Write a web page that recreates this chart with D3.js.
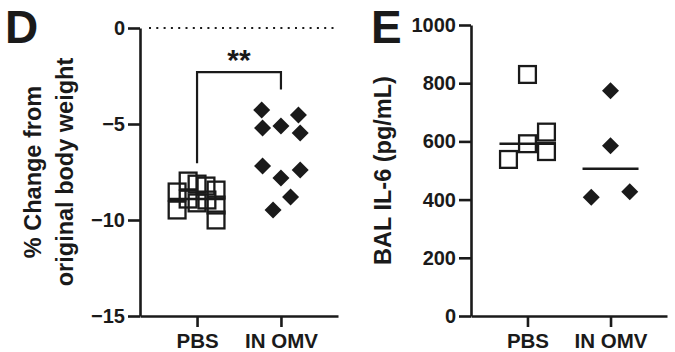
<!DOCTYPE html>
<html>
<head>
<meta charset="utf-8">
<script src="https://cdn.jsdelivr.net/npm/d3@7"></script>
<style>
  body { margin: 0; background: #fff; }
  text { font-family: "Liberation Sans", Arial, sans-serif; font-weight: bold; fill: #1a1a1a; }
</style>
</head>
<body>
<div id="chart"></div>
<script>
// groups
const groups = ["PBS", "IN OMV"];

// panel D: % change from original body weight
const weightPBS = [-8.54, -9.48, -7.97, -8.13, -8.23, -8.44, -8.91, -9.11, -8.96, -9.22, -10.0];
const weightOMV = [-4.27, -4.53, -5.21, -5.10, -5.47, -7.19, -7.40, -7.81, -8.80, -9.48];
const weightTicks = [0, -5, -10, -15];

// panel E: BAL IL-6 (pg/mL)
const il6PBS = [830, 538, 592, 632, 565];
const il6OMV = [774, 585, 408, 427];
const il6Ticks = [0, 200, 400, 600, 800, 1000];

// horizontal scatter of the dots, in marker widths
const jitterWeightPBS = [-1.05, -1.05, -0.47, 0, 0.47, 1.0, -0.47, 0, 0.52, 1.0, 1.0];
const jitterWeightOMV = [-1.1, 1.0, -1.05, 0, 1.1, -1.05, 1.1, 0, 0.55, -0.45];
const jitterIl6PBS = [0, -1.0, 0, 1.0, 1.0];
const jitterIl6OMV = [0, 0, -1.1, 1.1];

const W = 675, H = 352;
const ink = "#1a1a1a";
const svg = d3.select("#chart").append("svg").attr("width", W).attr("height", H);

function panel(opt) {
  const g = svg.append("g");
  const x = d3.scalePoint().domain(groups).range([opt.left, opt.right]).padding(0.68);
  const y = d3.scaleLinear().domain(opt.domain).range([opt.bottom, opt.top]);

  // axes
  const yAxis = g.append("g")
    .attr("transform", `translate(${opt.left},0)`)
    .call(d3.axisLeft(y).tickValues(opt.ticks).tickFormat(d3.format("d"))
      .tickSize(12).tickSizeOuter(0).tickPadding(3));
  const xAxis = g.append("g")
    .attr("transform", `translate(0,${opt.bottom})`)
    .call(d3.axisBottom(x).tickSize(11).tickSizeOuter(0).tickPadding(6));
  [yAxis, xAxis].forEach(a => {
    a.attr("font-family", null).attr("font-size", null);
    a.select(".domain").attr("stroke", ink).attr("stroke-width", 2.6);
    a.selectAll(".tick line").attr("stroke", ink).attr("stroke-width", 2.6);
    a.selectAll("text").attr("fill", ink).style("font-size", "20px");
  });
  xAxis.selectAll("text").style("font-size", "20.5px");

  // y label
  const lab = g.append("text")
    .attr("transform", `translate(${opt.labelX},${(opt.top + opt.bottom) / 2}) rotate(-90)`)
    .attr("text-anchor", "middle")
    .style("font-size", "23.5px");
  opt.label.forEach((t, i) => {
    lab.append("tspan").attr("x", 0).attr("dy", i === 0 ? 0 : 32).text(t);
  });

  // panel letter
  g.append("text").attr("x", opt.letterX).attr("y", 43)
    .style("font-size", "46px").text(opt.letter);

  return { g, x, y };
}

function squares(p, grp, vals, jit, size) {
  p.g.selectAll(null).data(vals).enter().append("rect")
    .attr("x", (d, i) => p.x(grp) + jit[i] * size - size / 2 + 1.1)
    .attr("y", d => p.y(d) - size / 2 + 1.1)
    .attr("width", size - 2.2).attr("height", size - 2.2)
    .attr("fill", "none").attr("stroke", ink).attr("stroke-width", 2.3);
}

function diamonds(p, grp, vals, jit, size) {
  const r = size / 2;
  p.g.selectAll(null).data(vals).enter().append("path")
    .attr("d", (d, i) => {
      const cx = p.x(grp) + jit[i] * 17.5, cy = p.y(d);
      return `M${cx},${cy - r}L${cx + r},${cy}L${cx},${cy + r}L${cx - r},${cy}Z`;
    })
    .attr("fill", ink);
}

function medianLine(p, grp, vals) {
  const m = d3.median(vals);
  p.g.append("line")
    .attr("x1", p.x(grp) - 28).attr("x2", p.x(grp) + 28)
    .attr("y1", p.y(m)).attr("y2", p.y(m))
    .attr("stroke", ink).attr("stroke-width", 2.6);
}

// ---- panel D
const pD = panel({
  left: 140, right: 338, top: 28, bottom: 316,
  domain: [-15, 0], ticks: weightTicks,
  label: ["% Change from", "original body weight"], labelX: 41,
  letter: "D", letterX: 5
});

pD.g.append("line")
  .attr("x1", 149).attr("x2", 338)
  .attr("y1", pD.y(0)).attr("y2", pD.y(0))
  .attr("stroke", ink).attr("stroke-width", 2).attr("stroke-dasharray", "2,5.3");

squares(pD, "PBS", weightPBS, jitterWeightPBS, 19);
medianLine(pD, "PBS", weightPBS);
diamonds(pD, "IN OMV", weightOMV, jitterWeightOMV, 17);

// significance bracket
const bx1 = pD.x("PBS"), bx2 = pD.x("IN OMV");
pD.g.append("path")
  .attr("d", `M${bx1},${pD.y(-7.05)}V${pD.y(-2.3)}H${bx2}V${pD.y(-3.2)}`)
  .attr("fill", "none").attr("stroke", ink).attr("stroke-width", 2.2);
pD.g.append("text").attr("x", (bx1 + bx2) / 2).attr("y", 70)
  .attr("text-anchor", "middle").style("font-size", "30px").text("**");

// ---- panel E
const pE = panel({
  left: 471, right: 667, top: 25, bottom: 316,
  domain: [0, 1000], ticks: il6Ticks,
  label: ["BAL IL-6 (pg/mL)"], labelX: 391,
  letter: "E", letterX: 371
});

squares(pE, "PBS", il6PBS, jitterIl6PBS, 19);
medianLine(pE, "PBS", il6PBS);
diamonds(pE, "IN OMV", il6OMV, jitterIl6OMV, 17);
medianLine(pE, "IN OMV", il6OMV);
</script>
</body>
</html>
